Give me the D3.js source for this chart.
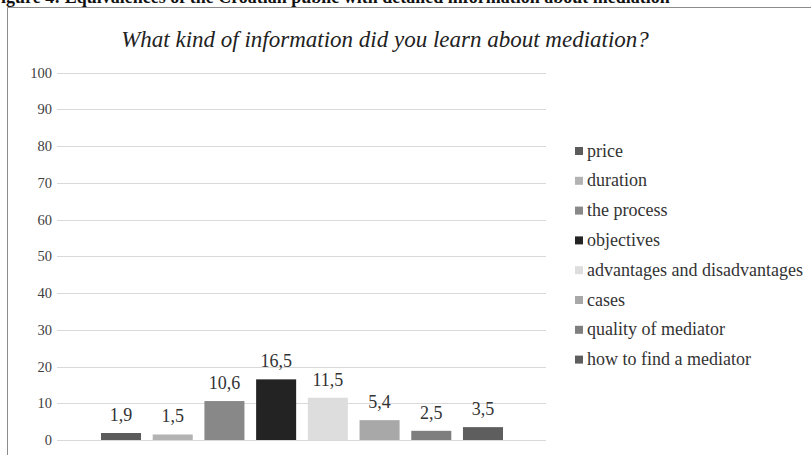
<!DOCTYPE html>
<html>
<head>
<meta charset="utf-8">
<script src="https://cdn.jsdelivr.net/npm/d3@7"></script>
<style>
  body { margin: 0; background: #fff; }
  svg { display: block; }
</style>
</head>
<body>
<svg id="chart" width="811" height="455"></svg>
<script>
// data
var categories = ["price", "duration", "the process", "objectives", "advantages and disadvantages", "cases", "quality of mediator", "how to find a mediator"];
var values = [1.9, 1.5, 10.6, 16.5, 11.5, 5.4, 2.5, 3.5];
var barColors = ["#5b5b5b", "#b3b3b3", "#888888", "#232323", "#dddddd", "#a8a8a8", "#7e7e7e", "#5e5e5e"];
var yTicks = [0, 10, 20, 30, 40, 50, 60, 70, 80, 90, 100];

var svg = d3.select("#chart");
var serif = "'Liberation Serif', 'Times New Roman', serif";
var width = 811, height = 455;

// caption of the page, cut off at the top
svg.append("text")
    .attr("x", -10)
    .attr("y", 3)
    .attr("font-family", serif)
    .attr("font-weight", "bold")
    .attr("font-size", 18)
    .attr("fill", "#111")
    .text("Figure 4: Equivalences of the Croatian public with detailed information about mediation");

// chart area border
svg.append("path")
    .attr("d", "M7.5," + height + "V7.5H" + width)
    .attr("fill", "none")
    .attr("stroke", "#8c8c8c")
    .attr("stroke-width", 1);

var y = d3.scaleLinear().domain([0, 100]).range([440, 72.5]);
var x = d3.scaleBand()
    .domain(categories)
    .range([101, 503])
    .paddingInner(0.226);

// gridlines
svg.append("g")
    .selectAll("line")
    .data(yTicks)
    .join("line")
    .attr("x1", 57)
    .attr("x2", 546)
    .attr("y1", d => Math.round(y(d)) + 0.5)
    .attr("y2", d => Math.round(y(d)) + 0.5)
    .attr("stroke", "#d9d9d9")
    .attr("stroke-width", 1);

// y axis labels
var yAxis = d3.axisLeft(y).tickValues(yTicks).tickSize(0).tickPadding(0);
var gy = svg.append("g")
    .attr("transform", "translate(52,0)")
    .call(yAxis);
gy.select(".domain").remove();
gy.selectAll("text")
    .attr("font-family", serif)
    .attr("font-size", 14.5)
    .attr("fill", "#404040");

// bars
svg.append("g")
    .selectAll("rect")
    .data(values)
    .join("rect")
    .attr("x", (d, i) => x(categories[i]))
    .attr("y", d => y(d))
    .attr("width", x.bandwidth())
    .attr("height", d => y(0) - y(d))
    .attr("fill", (d, i) => barColors[i]);

// value labels
svg.append("g")
    .selectAll("text")
    .data(values)
    .join("text")
    .attr("x", (d, i) => x(categories[i]) + x.bandwidth() / 2)
    .attr("y", d => y(d) - 12)
    .attr("text-anchor", "middle")
    .attr("font-family", serif)
    .attr("font-size", 18)
    .attr("fill", "#333")
    .text(d => d.toFixed(1).replace(".", ","));

// title
svg.append("text")
    .attr("x", 385)
    .attr("y", 47)
    .attr("text-anchor", "middle")
    .attr("font-family", serif)
    .attr("font-style", "italic")
    .attr("font-size", 23)
    .attr("fill", "#222")
    .text("What kind of information did you learn about mediation?");

// legend
var legend = svg.append("g")
    .selectAll("g")
    .data(categories)
    .join("g")
    .attr("transform", (d, i) => "translate(575," + (151 + i * 29.8) + ")");
legend.append("rect")
    .attr("x", 0)
    .attr("y", -4)
    .attr("width", 8)
    .attr("height", 8)
    .attr("fill", (d, i) => barColors[i]);
legend.append("text")
    .attr("x", 12)
    .attr("y", 5.5)
    .attr("font-family", serif)
    .attr("font-size", 18)
    .attr("fill", "#333")
    .text(d => d);
</script>
</body>
</html>
